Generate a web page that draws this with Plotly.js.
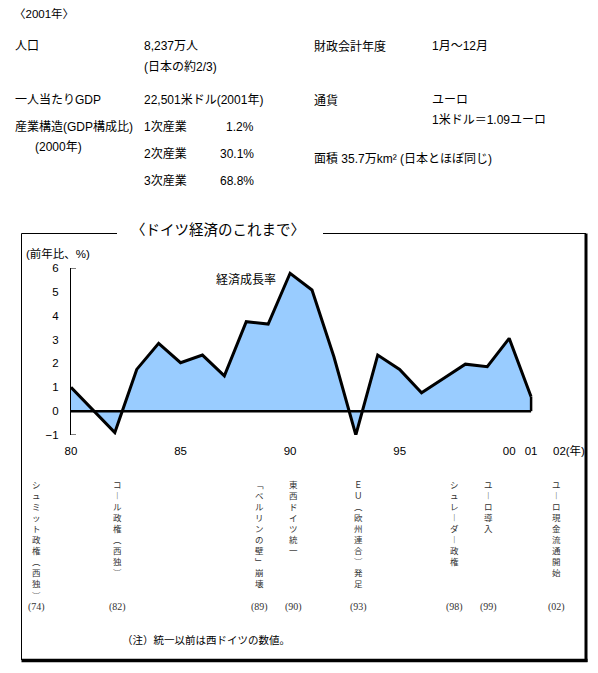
<!DOCTYPE html>
<html>
<head>
<meta charset="utf-8">
<script src="https://cdn.plot.ly/plotly-3.0.1.min.js"></script>
<style>html,body{margin:0;padding:0;background:#fff;}#chart{width:598px;height:673px;}</style>
</head>
<body>
<div id="chart"></div>
<script>
// ---- data ----
const years = [1980,1981,1982,1983,1984,1985,1986,1987,1988,1989,1990,1991,1992,1993,1994,1995,1996,1997,1998,1999,2000,2001];
const growth = [1.0,0.05,-0.9,1.75,2.84,2.03,2.35,1.48,3.75,3.65,5.78,5.08,2.28,-1.0,2.35,1.75,0.77,1.37,1.97,1.86,3.05,0.6];
const tickYears = [1980,1985,1990,1995,2000,2001];
const tickLabels = ['80','85','90','95','00','01'];
const lastTickYear = 2002;
const lastTickLabel = '02(年)';
const yTicks = [-1,0,1,2,3,4,5,6];
const seriesName = '経済成長率';
const chartTitle = '〈ドイツ経済のこれまで〉';
const yTitle = '(前年比、%)';
const footnote = '（注）統一以前は西ドイツの数値。';

// events (vertical labels)
const eventLabels = ['シュミット政権︵西独︶','コ︱ル政権︵西独︶','﹁ベルリンの壁﹂崩壊','東西ドイツ統一','ＥＵ︵欧州連合︶発足','シュレ︱ダ︱政権','ユ︱ロ導入','ユ︱ロ現金流通開始'];
const eventYearLabels = ['(74)','(82)','(89)','(90)','(93)','(98)','(99)','(02)'];

// info block texts
const infoHeader = '〈2001年〉';
const infoLeftLabels = ['人口','一人当たりGDP','産業構造(GDP構成比)','(2000年)'];
const infoLeftValues = ['8,237万人','(日本の約2/3)','22,501米ドル(2001年)'];
const industryNames = ['1次産業','2次産業','3次産業'];
const industryShares = ['1.2%','30.1%','68.8%'];
const infoRightLabels = ['財政会計年度','通貨'];
const infoRightValues = ['1月～12月','ユーロ','1米ドル＝1.09ユーロ'];
const areaText = '面積 35.7万km² (日本とほぼ同じ)';

// ---- layout helpers (pixel -> paper) ----
const W = 598, H = 673, L = 71, R = 553, T = 268, B = 435;
const px = x => (x - L) / (R - L);
const py = y => (B - y) / (B - T);
const SANS = "'Liberation Sans', 'Noto Sans CJK JP', sans-serif";
const CJK = "'Noto Sans CJK JP', sans-serif";

const ann = [];
function txt(text, x, y, size, anchor, opts) {
  ann.push(Object.assign({
    text: text, xref: 'paper', yref: 'paper', x: px(x), y: py(y),
    xanchor: anchor || 'left', yanchor: 'middle', showarrow: false,
    font: {family: SANS, size: size || 12, color: '#000'}
  }, opts || {}));
}

// info block
txt(infoHeader, 12, 14, 11.5);
const leftLabelPos = [[13,46],[13,100],[13,127],[33,147]];
infoLeftLabels.forEach((t,i)=>txt(t, leftLabelPos[i][0], leftLabelPos[i][1], 12));
const leftValPos = [[142,46],[142,66],[142,100]];
infoLeftValues.forEach((t,i)=>txt(t, leftValPos[i][0], leftValPos[i][1], 12));
const indY = [127,154,181];
industryNames.forEach((t,i)=>{ txt(t, 142, indY[i], 12); txt(industryShares[i], 256, indY[i], 12, 'right'); });
const rightLabelPos = [[312,46],[312,100]];
infoRightLabels.forEach((t,i)=>txt(t, rightLabelPos[i][0], rightLabelPos[i][1], 12));
const rightValPos = [[430,46],[430,100],[430,120]];
infoRightValues.forEach((t,i)=>txt(t, rightValPos[i][0], rightValPos[i][1], 12));
txt(areaText, 312, 158, 12);

// chart title, axis title, series label, footnote
txt(chartTitle, 218, 228, 14.5, 'center', {font:{family:CJK,size:14.5,color:'#000'}});
txt(yTitle, 24, 253, 11.5);
txt(seriesName, 246, 280, 12, 'center');
txt(footnote, 206, 640, 10.5, 'center');

// last tick label (02(年))
ann.push({text: lastTickLabel, xref:'x', yref:'paper', x: lastTickYear, y: py(450), xanchor:'left', yanchor:'middle',
  showarrow:false, xshift:-2, font:{family:SANS,size:11.5,color:'#000'}});

// vertical event labels (one stacked text per event)
const eventX = [36,117,259,293,358,454,488,556];
eventLabels.forEach((lab,i)=>{
  txt(Array.from(lab).join('<br>'), eventX[i], 477, 8.5, 'center',
      {yanchor:'top', borderpad:0, font:{family:CJK,size:8.5,color:'#333'}});
  txt(eventYearLabels[i], eventX[i], 607, 10, 'center', {font:{family:"'Liberation Serif', serif",size:10,color:'#333'}, borderpad:0});
});

// frame shapes
const shapes = [];
function seg(x0,y0,x1,y1,w){ shapes.push({type:'line',xref:'paper',yref:'paper',x0:px(x0),y0:py(y0),x1:px(x1),y1:py(y1),line:{color:'#000',width:w}}); }
seg(21.5,233.5,117,233.5,1);
seg(323,233.5,586,233.5,1);
seg(21.5,233.5,21.5,660,1);
seg(586,233.5,586,662,3);
seg(21.5,660.5,587.5,660.5,3.5);
// y axis end ticks
shapes.push({type:'line',xref:'paper',yref:'y',x0:0,x1:px(76),y0:yTicks[yTicks.length-1],y1:yTicks[yTicks.length-1],line:{color:'#000',width:1}});
shapes.push({type:'line',xref:'paper',yref:'y',x0:0,x1:px(76),y0:yTicks[0],y1:yTicks[0],line:{color:'#000',width:1}});
// baseline and closing edge of area, from data
const lastYear = years[years.length-1];
shapes.push({type:'line',xref:'x',yref:'y',x0:years[0],x1:lastYear,y0:0,y1:0,line:{color:'#000',width:2.5},layer:'above'});
shapes.push({type:'line',xref:'x',yref:'y',x0:lastYear,x1:lastYear,y0:0,y1:growth[growth.length-1],line:{color:'#000',width:2.5},layer:'above'});

const trace = {
  x: years, y: growth, type:'scatter', mode:'lines', fill:'tozeroy',
  fillcolor:'#99CCFF', line:{color:'#000', width:3}, hoverinfo:'skip', showlegend:false
};

const layout = {
  width: W, height: H,
  margin: {l: L, r: W - R, t: T, b: H - B, pad: 0},
  paper_bgcolor:'#fff', plot_bgcolor:'rgba(0,0,0,0)',
  showlegend:false,
  xaxis: {range:[1980, 2002], tickvals: tickYears, ticktext: tickLabels, showgrid:false, zeroline:false,
    showline:false, ticks:'', ticklabelstandoff: 7, tickfont:{family:SANS,size:11.5,color:'#000'}, fixedrange:true},
  yaxis: {range:[-1, 6], tickvals: yTicks, showgrid:false, zeroline:false, showline:true, linecolor:'#000', linewidth:1,
    ticks:'', ticklabelstandoff: 9, tickfont:{family:SANS,size:11.5,color:'#000'}, fixedrange:true},
  annotations: ann, shapes: shapes
};

Plotly.newPlot('chart', [trace], layout, {staticPlot:true, displayModeBar:false});
</script>
</body>
</html>
